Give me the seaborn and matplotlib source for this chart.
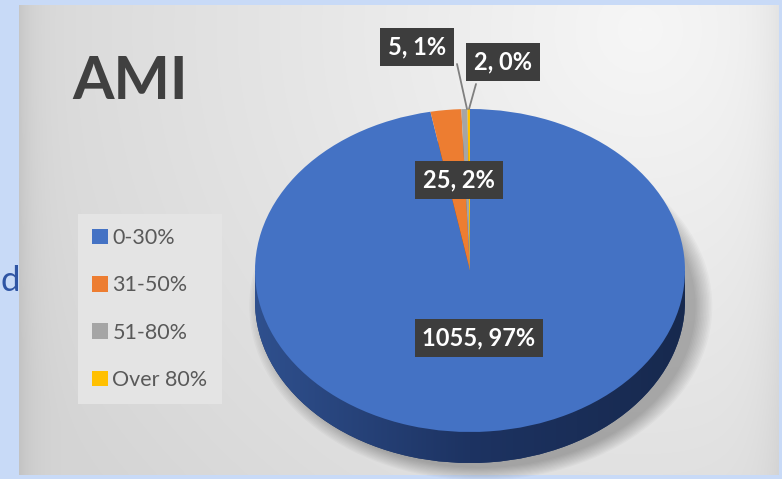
import numpy as np
import matplotlib
matplotlib.use("Agg")
import matplotlib.pyplot as plt
import seaborn as sns
from matplotlib.patches import Rectangle, Ellipse

# ---------------- data ----------------
categories = ["0-30%", "31-50%", "51-80%", "Over 80%"]
values = [1055, 25, 5, 2]
pct_labels = ["97%", "2%", "1%", "0%"]
title = "AMI"

top_colors = ["#4472c4", "#ed7d31", "#a5a5a5", "#ffc000"]
side_colors = ["#1f3766", "#8a4516", "#5e5e5e", "#946f00"]

sns.set_style("white")
plt.rcParams["font.family"] = ["Lato", "DejaVu Sans"]

W, H = 782, 479
fig = plt.figure(figsize=(W / 100, H / 100), dpi=100)
fig.patch.set_facecolor("#c8daf7")

# ---------------- chart-area background gradient ----------------
bx0, by0, bx1, by1 = 19, 5, 779, 475
bg = fig.add_axes([bx0 / W, 1 - by1 / H, (bx1 - bx0) / W, (by1 - by0) / H], zorder=0)
xs = np.arange(bx0, bx1)
ys = np.arange(by0, by1)
XX, YY = np.meshgrid(xs, ys)
d = np.clip(np.hypot(XX - 640, YY - 30) / 700, 0, 1)
v = 0.965 - 0.13 * d
v -= 0.07 * np.exp(-(XX - bx0) / 14.0)
v -= 0.05 * np.exp(-(bx1 - XX) / 18.0)
img = np.dstack([v, v, v])
bg.imshow(img, aspect="auto", extent=(bx0, bx1, by1, by0), interpolation="bilinear")
bg.set_axis_off()

# ---------------- pie (pseudo 3D) ----------------
px0, px1 = 255, 685          # horizontal extent of top face
py_top, py_face_bot, py_side_bot = 109, 432, 463
ry_px = (py_face_bot - py_top) / 2
dep = (py_side_bot - py_face_bot) / ry_px

ax = fig.add_axes([px0 / W, 1 - py_side_bot / H, (px1 - px0) / W, (py_side_bot - py_top) / H], zorder=1)
ax.patch.set_visible(False)

# soft shadow
for i in range(12):
    s = 1.0 + 0.007 * i
    e = Ellipse((0.05, -dep - 0.03), 2 * s, 2 * s, color="black",
                alpha=0.022, lw=0, clip_on=False, zorder=0)
    ax.add_patch(e)

# side (bottom ellipse + band)
side_wedges, _ = ax.pie(values, colors=side_colors, startangle=90, counterclock=False,
                        center=(0, -dep), radius=1, wedgeprops=dict(linewidth=0))
for w in side_wedges:
    w.set_zorder(1)
band = Rectangle((-1, -dep), 2, dep, color=side_colors[0], lw=0, zorder=1)
ax.add_patch(band)

grad = np.linspace(0, 1, 256)
cols = np.array([[0x2f, 0x50, 0x8e], [0x1d, 0x33, 0x62], [0x17, 0x29, 0x4e]]) / 255.0
def lerp_cols(t):
    t = np.asarray(t)
    a = np.where(t < 0.5, 0, 1)
    f = np.where(t < 0.5, t / 0.5, (t - 0.5) / 0.5)
    return cols[a] * (1 - f)[..., None] + cols[a + 1] * f[..., None]
gimg = lerp_cols(grad)[None, :, :]
for clipper in (side_wedges[0], band):
    im = ax.imshow(gimg, extent=(-1, 1, -1 - dep, 0), aspect="auto", zorder=2,
                   interpolation="bilinear")
    im.set_clip_path(clipper)

# top face
top_wedges, _ = ax.pie(values, colors=top_colors, startangle=90, counterclock=False,
                       center=(0, 0), radius=1, wedgeprops=dict(linewidth=0))
for w in top_wedges:
    w.set_zorder(3)

ax.set_aspect("auto")
ax.set_xlim(-1, 1)
ax.set_ylim(-1 - dep, 1)
ax.set_axis_off()

# ---------------- overlay in pixel coordinates ----------------
ov = fig.add_axes([0, 0, 1, 1], zorder=5)
ov.set_xlim(0, W)
ov.set_ylim(H, 0)
ov.set_axis_off()
ov.patch.set_visible(False)

ov.text(72, 99, title, fontsize=43, fontweight="bold", color="#404040", va="baseline", ha="left")

# partially visible slide text on the left
ov.text(1, 291, "d", fontsize=25, color="#2f55a4", va="baseline", ha="left")

# leader lines
ov.plot([457, 467], [64, 109], color="#7f7f7f", lw=1.3, zorder=4)
ov.plot([476, 469], [84, 109], color="#7f7f7f", lw=1.3, zorder=4)

label_pos = [(479, 338), (459, 180), (417, 47), (503, 62)]
for (x, y), val, pct in zip(label_pos, values, pct_labels):
    ov.text(x, y, f"{val}, {pct}", fontsize=17, fontweight="bold", color="white",
            ha="center", va="center", zorder=6,
            bbox=dict(boxstyle="square,pad=0.33", fc="#3d3d3d", ec="none"))

# legend
leg = fig.legend(top_wedges, categories, loc="upper left",
                 bbox_to_anchor=(78 / W, 1 - 214 / H), borderaxespad=0, fontsize=15.5,
                 handlelength=0.75, handleheight=0.75, handletextpad=0.2,
                 labelspacing=1.27, borderpad=0.65, frameon=True, fancybox=False,
                 facecolor="#e4e4e4", edgecolor="none", framealpha=1)
for t in leg.get_texts():
    t.set_color("#595959")

fig.savefig("out.png", dpi=100, facecolor=fig.get_facecolor())
